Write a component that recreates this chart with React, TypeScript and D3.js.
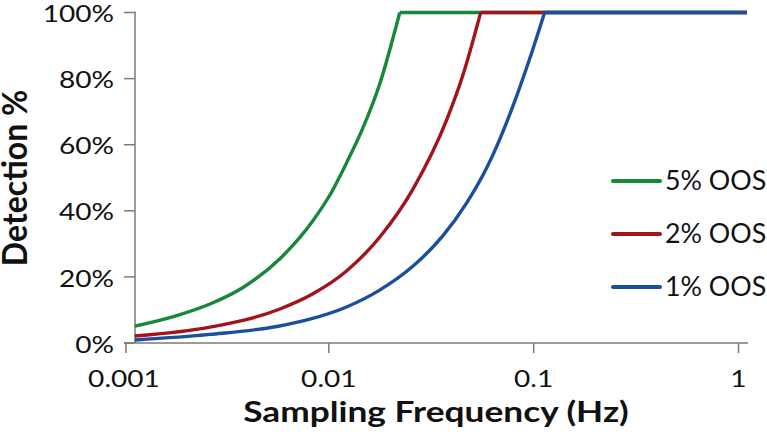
import React from 'react';
import * as d3 from 'd3';

// Series (frequency in Hz, detection as fraction)
const seriesNames = ['5% OOS', '2% OOS', '1% OOS'];
const seriesColors = ['#17873a', '#a3141a', '#1a4f9e'];

const greenFreq = [0.00113, 0.00181, 0.00263, 0.00381, 0.00577, 0.00836, 0.0101, 0.0122, 0.0146, 0.0177, 0.0222, 1.1];
const greenDet = [0.051, 0.083, 0.118, 0.168, 0.255, 0.37, 0.447, 0.545, 0.648, 0.783, 1.0, 1.0];

const redFreq = [0.00113, 0.00263, 0.00577, 0.00836, 0.0122, 0.0177, 0.0257, 0.0376, 0.0451, 0.0551, 1.1];
const redDet = [0.021, 0.048, 0.103, 0.149, 0.218, 0.32, 0.465, 0.675, 0.81, 1.0, 1.0];

const blueFreq = [0.00113, 0.00263, 0.00558, 0.00808, 0.0122, 0.0177, 0.0257, 0.036, 0.0471, 0.059, 0.066, 0.079, 0.0956, 0.1131, 1.1];
const blueDet = [0.009, 0.026, 0.05, 0.072, 0.109, 0.16, 0.232, 0.324, 0.424, 0.53, 0.595, 0.715, 0.86, 1.0, 1.0];

const xTicks = [0.001, 0.01, 0.1, 1];
const xTickLabels = ['0.001', '0.01', '0.1', '1'];
const yTicks = [0, 0.2, 0.4, 0.6, 0.8, 1.0];
const yTickLabels = ['0%', '20%', '40%', '60%', '80%', '100%'];

const W = 767;
const H = 445;
const FONT = 'Lato, "Open Sans", sans-serif';
const SX = 1.17;

export default function App() {
  const x = d3.scaleLog().domain([0.001, 1.1]).range([124, 747]);
  const y = d3.scaleLinear().domain([0, 1]).range([343, 12.5]);
  const yAxisX = 135;
  const axisColor = '#7a7a7a';

  const all = [
    { f: greenFreq, d: greenDet },
    { f: redFreq, d: redDet },
    { f: blueFreq, d: blueDet },
  ];

  const curve = d3
    .line<[number, number]>()
    .x((p) => x(p[0]))
    .y((p) => y(p[1]))
    .curve(d3.curveMonotoneX);
  const straight = d3
    .line<[number, number]>()
    .x((p) => x(p[0]))
    .y((p) => y(p[1]));

  const paths = all.map((s) => {
    const pts: [number, number][] = s.f.map((f, i) => [f, s.d[i]]);
    const k = s.d.findIndex((v) => v >= 1);
    const rise = pts.slice(0, k + 1);
    const flat = pts.slice(k);
    return { rise: curve(rise) || '', flat: straight(flat) || '' };
  });

  const legendY = [181, 234, 287];

  return (
    <svg
      width={W}
      height={H}
      style={{ position: 'absolute', left: 0, top: 0, background: '#fff' }}
      fontFamily={FONT}
    >
      {/* axes */}
      <line x1={yAxisX} x2={yAxisX} y1={y(1) - 1} y2={y(0)} stroke={axisColor} strokeWidth={1.5} />
      {yTicks.map((t, i) => (
        <g key={'yt' + i}>
          <line x1={124} x2={yAxisX} y1={y(t)} y2={y(t)} stroke={axisColor} strokeWidth={1.5} />
          <text
            transform={`translate(114,${y(t) + 1}) scale(${SX},1)`}
            textAnchor="end"
            dy="0.36em"
            fontSize={24}
            fill="#111"
          >
            {yTickLabels[i]}
          </text>
        </g>
      ))}
      <line x1={124} x2={748} y1={y(0)} y2={y(0)} stroke={axisColor} strokeWidth={1.5} />
      {xTicks.map((t, i) => (
        <g key={'xt' + i}>
          <line x1={x(t) + (i === 0 ? 2 : 0)} x2={x(t) + (i === 0 ? 2 : 0)} y1={y(0)} y2={y(0) + 10} stroke={axisColor} strokeWidth={1.5} />
          <text
            transform={`translate(${x(t)},387) scale(${SX},1)`}
            textAnchor="middle"
            fontSize={24}
            fill="#111"
          >
            {xTickLabels[i]}
          </text>
        </g>
      ))}

      {/* series */}
      {paths.map((p, i) => (
        <g key={'s' + i} fill="none" stroke={seriesColors[i]} strokeWidth={3.4}>
          <path d={p.rise} />
          <path d={p.flat} />
        </g>
      ))}

      {/* legend */}
      {seriesNames.map((n, i) => (
        <g key={'lg' + i}>
          <line x1={613} x2={660} y1={legendY[i]} y2={legendY[i]} stroke={seriesColors[i]} strokeWidth={4} strokeLinecap="round" />
          <text
            transform={`translate(665,${legendY[i]}) scale(1.03,1)`}
            dy="0.36em"
            fontSize={26}
            fill="#111"
          >
            {n}
          </text>
        </g>
      ))}

      {/* axis titles */}
      <text
        transform={`translate(436,422) scale(1.26,1)`}
        textAnchor="middle"
        fontSize={28}
        fontWeight="bold"
        fill="#111"
      >
        Sampling Frequency (Hz)
      </text>
      <text
        transform={`translate(27,178) scale(1.1,1) rotate(-90)`}
        textAnchor="middle"
        fontSize={32}
        fontWeight="bold"
        fill="#111"
      >
        Detection %
      </text>
    </svg>
  );
}
